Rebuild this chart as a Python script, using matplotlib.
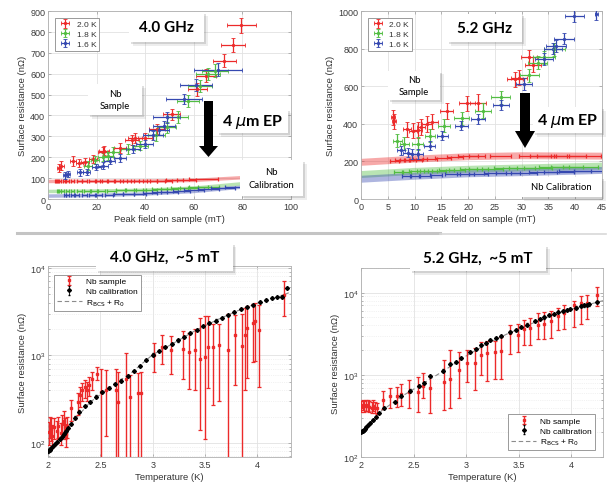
import matplotlib
matplotlib.use("Agg")
import matplotlib.pyplot as plt
from matplotlib.patches import Rectangle, Polygon
from matplotlib.lines import Line2D
from matplotlib.ticker import FuncFormatter, MultipleLocator

# ---------------- data: 4.0 GHz, Rs vs peak field ----------------
temps = ["2.0 K", "1.8 K", "1.6 K"]

a_red_x = [4.5, 5.5, 10.3, 12.8, 15.2, 18.5, 22.5, 23.0, 29.6, 34.5, 35.8, 40.0, 44.8, 51.0, 61.5, 65.0, 72.5, 76.0, 79.5]
a_red_y = [148, 160, 182, 172, 177, 191, 225, 232, 244, 283, 292, 290, 335, 405, 525, 590, 662, 738, 832]
a_red_xe = [1.0, 1.0, 1.2, 1.4, 1.5, 1.8, 2.0, 2.0, 2.5, 2.8, 2.8, 3.0, 3.2, 3.5, 4.0, 4.3, 4.8, 5.0, 6.0]
a_red_ye = [20, 20, 22, 20, 20, 20, 22, 22, 22, 25, 25, 25, 25, 28, 30, 30, 30, 32, 35]

a_grn_x = [16.5, 19.3, 22.7, 24.7, 26.7, 32.9, 37.8, 44.6, 48.8, 53.6, 57.7, 62.5, 65.9, 68.7]
a_grn_y = [160, 187, 200, 206, 225, 239, 256, 304, 343, 391, 470, 542, 598, 614]
a_grn_xe = [1.5, 1.8, 2.0, 2.2, 2.4, 2.8, 3.2, 3.6, 4.0, 4.2, 4.5, 4.8, 5.0, 5.2]
a_grn_ye = [20, 20, 20, 20, 22, 22, 22, 25, 25, 28, 28, 30, 30, 30]

a_blu_x = [6.9, 8.2, 13.0, 16.0, 19.9, 22.7, 25.4, 29.5, 35.0, 39.8, 43.3, 45.7, 47.7, 48.8, 56.0, 61.0, 70.0]
a_blu_y = [113, 121, 127, 129, 153, 160, 184, 196, 240, 264, 304, 328, 351, 391, 478, 545, 619]
a_blu_xe = [0.8, 0.9, 1.2, 1.4, 1.8, 2.0, 2.2, 2.5, 3.0, 3.5, 4.0, 4.2, 4.5, 5.5, 7.5, 6.5, 10.0]
a_blu_ye = [15, 15, 15, 15, 15, 18, 18, 18, 20, 20, 22, 22, 22, 25, 25, 28, 30]

# calibration cavity
a_cr_x = [3, 4, 5, 6.5, 8, 10, 13, 15, 18, 21, 23, 26, 29, 32, 35, 38, 42, 45, 48, 52, 57, 64]
a_cr_y = [85, 85, 85, 85, 85, 85, 85, 85, 85, 85, 85, 86, 86, 86, 86, 86, 87, 87, 88, 89, 91, 96]
a_cr_xe = [0.3, 0.3, 0.4, 0.5, 0.6, 0.7, 0.9, 1.0, 1.2, 1.4, 1.5, 1.7, 2.0, 2.2, 2.4, 2.6, 3.0, 3.0, 3.2, 3.5, 3.8, 6.0]
a_cg_x = [4, 5, 6, 8, 10, 13, 16, 19, 22, 26, 30, 34, 38, 42, 46, 50, 54, 58, 62, 66]
a_cg_y = [38, 38, 38, 38, 38, 39, 39, 39, 40, 40, 41, 42, 43, 45, 47, 50, 52, 54, 56, 58]
a_cg_xe = [0.3, 0.4, 0.5, 0.6, 0.7, 0.9, 1.1, 1.3, 1.5, 1.8, 2.0, 2.3, 2.5, 2.8, 3.0, 3.3, 3.5, 3.8, 4.0, 4.3]
a_cb_x = [7, 8, 10, 12, 15, 18, 21, 25, 29, 33, 38, 42, 46, 50, 55, 60, 66, 72, 78]
a_cb_y = [18, 18, 18, 18, 19, 19, 20, 21, 22, 24, 26, 29, 32, 35, 38, 42, 47, 52, 58]
a_cb_xe = [0.5, 0.6, 0.7, 0.8, 1.0, 1.2, 1.4, 1.7, 2.0, 2.2, 2.5, 2.8, 3.0, 3.3, 3.6, 4.0, 4.4, 4.8, 5.2]

a_fit_x = [0, 20, 40, 60, 80, 100]
a_fit_r = [84, 85, 86, 89, 102, 112]
a_fit_g = [36, 38, 42, 52, 73, 95]
a_fit_b = [14, 17, 24, 36, 57, 80]

# ---------------- data: 5.2 GHz, Rs vs peak field ----------------
b_red_x = [6.0, 6.2, 8.6, 9.7, 10.6, 11.2, 12.3, 13.3, 16.0, 19.8, 21.8, 28.8, 29.5, 31.4, 32.2]
b_red_y = [436, 414, 370, 362, 367, 383, 399, 410, 468, 508, 512, 638, 645, 753, 715]
b_red_xe = [0.4, 0.4, 0.8, 0.8, 0.8, 0.8, 1.0, 1.0, 1.2, 1.5, 1.5, 1.5, 1.5, 1.5, 1.5]
b_red_ye = [40, 40, 40, 40, 40, 40, 40, 40, 40, 40, 45, 40, 40, 40, 40]

b_grn_x = [6.8, 8.1, 10.6, 12.9, 15.5, 18.8, 22.7, 26.1, 31.4, 33.0, 34.2, 36.1]
b_grn_y = [311, 293, 293, 337, 390, 429, 470, 541, 658, 726, 753, 797]
b_grn_xe = [0.8, 0.9, 1.0, 1.0, 1.2, 1.4, 1.5, 1.8, 1.8, 1.8, 2.0, 2.0]
b_grn_ye = [35, 35, 35, 35, 35, 35, 40, 35, 35, 35, 35, 35]

b_blu_x = [7.5, 8.7, 9.6, 10.6, 12.8, 15.2, 18.7, 21.8, 26.1, 30.5, 34.2, 35.8, 36.4, 37.9, 39.8, 43.9]
b_blu_y = [258, 246, 240, 240, 284, 337, 390, 426, 500, 611, 744, 800, 814, 853, 973, 982]
b_blu_xe = [0.8, 0.8, 0.9, 1.0, 1.0, 1.0, 1.2, 1.3, 1.5, 1.5, 1.7, 1.7, 1.8, 1.9, 1.8, 0.3]
b_blu_ye = [25, 25, 25, 25, 25, 25, 25, 25, 25, 30, 30, 30, 30, 30, 30, 30]

b_cr_x = [6.3, 7.3, 8.2, 9.1, 10.1, 11.0, 12.9, 15.3, 17.6, 20.0, 21.7, 26.0, 32.5, 34.0, 35.6, 39.0, 41.8]
b_cr_y = [204, 205, 206, 208, 210, 212, 212, 216, 222, 228, 230, 229, 228, 228, 229, 229, 229]
b_cr_xe = [0.8, 0.9, 1.0, 1.1, 1.2, 1.3, 1.3, 1.5, 1.5, 1.8, 1.5, 2.0, 3.0, 2.5, 2.8, 3.0, 3.0]
b_cg_x = [7, 8.5, 10, 11.5, 13, 14.5, 16, 18, 20, 22, 24.5, 27, 30, 33, 36, 38.5, 41]
b_cg_y = [145, 146, 147, 148, 149, 150, 153, 156, 158, 160, 162, 164, 165, 166, 168, 170, 172]
b_cg_xe = [0.8, 0.9, 1.0, 1.1, 1.2, 1.3, 1.4, 1.5, 1.6, 1.8, 2.0, 2.2, 2.4, 2.6, 2.8, 3.0, 3.2]
b_cb_x = [8.5, 10, 12, 14, 17, 19.5, 22, 25, 27.5, 30.5, 34, 37, 40, 43]
b_cb_y = [120, 121, 124, 127, 131, 133, 135, 137, 138, 140, 142, 144, 147, 150]
b_cb_xe = [0.8, 0.9, 1.0, 1.2, 1.4, 1.6, 1.8, 2.0, 2.2, 2.4, 2.6, 2.8, 3.0, 3.2]

b_fit_x = [0, 10, 20, 30, 45]
b_fit_r = [195, 212, 225, 230, 228]
b_fit_g = [130, 147, 158, 165, 175]
b_fit_b = [105, 121, 134, 140, 152]

# ---------------- data: 4.0 GHz, Rs vs T ----------------
c_cal_T = [2.00, 2.01, 2.02, 2.03, 2.05, 2.07, 2.09, 2.11, 2.13, 2.15, 2.17, 2.19, 2.22, 2.26, 2.30, 2.35,
           2.40, 2.46, 2.52, 2.58, 2.64, 2.70, 2.76, 2.82, 2.88, 2.94, 3.00, 3.06, 3.12, 3.18, 3.24, 3.30,
           3.36, 3.42, 3.48, 3.54, 3.60, 3.66, 3.72, 3.78, 3.84, 3.90, 3.96, 4.02, 4.08, 4.14, 4.19, 4.23, 4.28]
c_cal_R = [80, 82, 84, 87, 92, 97, 103, 110, 118, 128, 138, 148, 165, 195, 228, 262,
           296, 338, 382, 425, 468, 515, 580, 660, 760, 880, 1020, 1130, 1240, 1350, 1480, 1630,
           1800, 1960, 2150, 2330, 2500, 2680, 2900, 3150, 3380, 3580, 3800, 4050, 4300, 4500, 4620, 4700, 5900]
c_smp_T = [2.01, 2.02, 2.03, 2.04, 2.06, 2.09, 2.10, 2.12, 2.13, 2.15, 2.16, 2.17, 2.18, 2.22, 2.29, 2.31,
           2.32, 2.35, 2.37, 2.39, 2.42, 2.47, 2.51, 2.55, 2.65, 2.67, 2.74, 2.78, 2.86, 2.89, 3.01, 3.09,
           3.17, 3.29, 3.35, 3.40, 3.45, 3.50, 3.53, 3.58, 3.63, 3.72, 3.79, 3.85, 3.88, 3.90, 3.96, 3.98, 4.01, 4.25]
c_smp_R = [132, 158, 145, 120, 150, 138, 158, 130, 165, 180, 151, 125, 158, 250, 292, 348,
           398, 433, 400, 454, 540, 617, 380, 398, 398, 290, 540, 335, 375, 375, 1000, 1250,
           1140, 1190, 1090, 1140, 920, 960, 1250, 1250, 1300, 1150, 1700, 1270, 1700, 2050, 2350, 2450, 1950, 4900]
c_smp_lo = [95, 115, 105, 90, 110, 100, 115, 95, 120, 130, 110, 90, 115, 180, 210, 260,
            300, 330, 300, 340, 400, 520, 10, 120, 10, 10, 10, 10, 10, 10, 640, 800,
            620, 540, 410, 400, 140, 110, 420, 270, 300, 10, 460, 10, 400, 550, 850, 870, 440, 2800]
c_smp_hi = [175, 200, 190, 160, 195, 180, 200, 170, 210, 230, 195, 165, 200, 310, 370, 430,
            480, 520, 490, 560, 650, 740, 690, 680, 700, 650, 1060, 600, 630, 640, 1400, 1700,
            1650, 1900, 1800, 2000, 2700, 2800, 2800, 2300, 2300, 3000, 2900, 3000, 3500, 3700, 3900, 4000, 3800, 7000]
c_fit_T = [2.0, 2.2, 2.4, 2.6, 2.8, 3.0, 3.2, 3.4, 3.6, 3.8, 4.0, 4.2, 4.3]
c_fit_R = [80, 155, 290, 440, 640, 1020, 1380, 1900, 2500, 3200, 3950, 4650, 5200]

# ---------------- data: 5.2 GHz, Rs vs T ----------------
d_cal_T = [2.00, 2.01, 2.02, 2.03, 2.04, 2.05, 2.07, 2.09, 2.11, 2.14, 2.17, 2.22, 2.32, 2.38, 2.47, 2.55,
           2.60, 2.66, 2.78, 2.85, 2.90, 2.95, 3.04, 3.09, 3.14, 3.19, 3.23, 3.28, 3.33, 3.42, 3.47, 3.52,
           3.58, 3.65, 3.70, 3.74, 3.79, 3.83, 3.87, 3.92, 3.96, 3.99, 4.04, 4.09, 4.12, 4.15, 4.17, 4.24]
d_cal_R = [200, 205, 210, 215, 222, 230, 245, 262, 280, 310, 340, 395, 470, 560, 645, 740,
           800, 980, 1130, 1360, 1450, 1620, 1900, 2050, 2300, 2450, 2630, 2800, 3000, 3300, 3550, 3800,
           4100, 4550, 4800, 5000, 5300, 5500, 5800, 6000, 6200, 6300, 6600, 6900, 7000, 7100, 7200, 7700]
d_smp_T = [2.00, 2.02, 2.03, 2.05, 2.07, 2.08, 2.10, 2.11, 2.13, 2.15, 2.21, 2.28, 2.34, 2.38, 2.46, 2.54,
           2.59, 2.66, 2.79, 2.85, 2.93, 3.01, 3.08, 3.14, 3.20, 3.27, 3.33, 3.42, 3.49, 3.55, 3.61, 3.68,
           3.74, 3.81, 3.87, 3.93, 4.02, 4.09, 4.15, 4.24]
d_smp_R = [410, 430, 415, 425, 420, 410, 400, 420, 400, 395, 490, 550, 560, 590, 620, 620,
           740, 690, 830, 890, 1150, 1400, 1400, 1750, 1850, 1900, 1950, 3200, 3100, 3600, 3700, 4100,
           4200, 4500, 5200, 5700, 7000, 7400, 7500, 9300]
d_smp_lo = [350, 370, 355, 365, 360, 350, 340, 360, 340, 330, 380, 400, 410, 420, 400, 350,
            520, 340, 370, 400, 520, 820, 650, 1000, 850, 900, 900, 1800, 1900, 2300, 2300, 2700,
            2700, 2800, 3500, 3600, 3800, 4200, 4800, 6900]
d_smp_hi = [480, 500, 485, 495, 490, 480, 470, 490, 470, 460, 630, 700, 720, 780, 870, 930,
            1050, 960, 1500, 2000, 1900, 2000, 2100, 2500, 2600, 2600, 2900, 4000, 4200, 4600, 4900, 5600,
            5800, 6000, 6500, 7000, 8000, 9000, 9500, 11800]
d_fit_T = [2.0, 2.2, 2.4, 2.6, 2.8, 3.0, 3.2, 3.4, 3.6, 3.8, 4.0, 4.2, 4.3]
d_fit_R = [200, 370, 560, 800, 1150, 1700, 2400, 3200, 4100, 5200, 6300, 7400, 8000]

RED, GREEN, BLUE = "#ec2a2a", "#52bd42", "#3548b0"

plt.rcParams["font.family"] = ["Liberation Sans", "DejaVu Sans"]
W, H = 608, 489
fig = plt.figure(figsize=(W / 100, H / 100), dpi=100)
fig.patch.set_facecolor("white")


def px_axes(l, t, r, b):
    return fig.add_axes([l / W, 1 - b / H, (r - l) / W, (b - t) / H])


def style(ax, log=False):
    ax.tick_params(which="both", direction="in", length=2.5, width=0.5, colors="#9a9a9a",
                   labelcolor="#3a3a3a", labelsize=6.5, pad=2, top=True, right=True)
    for s in ax.spines.values():
        s.set_color("#b0b0b0")
        s.set_linewidth(0.6)
    ax.grid(True, which="major", color="#e2e2e2", lw=0.6)
    if log:
        ax.grid(True, which="minor", color="#e6e6e6", lw=0.5, ls=":")
        ax.tick_params(which="minor", length=1.5)
    ax.set_axisbelow(True)


def shadow_box(l, t, r, b, text, size, bold=False):
    for off, a in ((3.5, 0.12), (2.0, 0.22)):
        fig.add_artist(Rectangle(((l + off) / W, 1 - (b + off) / H), (r - l) / W, (b - t) / H,
                                 transform=fig.transFigure, fc="#707070", ec="none", alpha=a, zorder=5))
    fig.add_artist(Rectangle((l / W, 1 - b / H), (r - l) / W, (b - t) / H,
                             transform=fig.transFigure, fc="white", ec="none", zorder=6))
    fig.text((l + r) / 2 / W, 1 - (t + b) / 2 / H, text, ha="center", va="center", fontsize=size,
             family="Lato", fontweight="bold" if bold else "normal", linespacing=1.5, zorder=7)


def down_arrow(xl, xr, hl, hr, top, neck, tip):
    pts = [(xl, top), (xr, top), (xr, neck), (hr, neck), ((hl + hr) / 2, tip), (hl, neck), (xl, neck)]
    fig.add_artist(Polygon([(x / W, 1 - y / H) for x, y in pts], closed=True,
                           transform=fig.transFigure, fc="black", ec="none", zorder=8))


def field_panel(ax, samples, cals, fit_x, fits, band_lw):
    for fy, c in zip(fits, (RED, GREEN, BLUE)):
        ax.plot(fit_x, fy, color=c, lw=band_lw, alpha=0.4, solid_capstyle="butt", zorder=1)
    for (x, y, xe), c in zip(cals, (RED, GREEN, BLUE)):
        ax.errorbar(x, y, xerr=xe, fmt="none", ecolor=c, elinewidth=0.9, capsize=1.5, capthick=0.9, zorder=2)
    handles = []
    for (x, y, xe, ye), c in zip(samples, (RED, GREEN, BLUE)):
        h = ax.errorbar(x, y, xerr=xe, yerr=ye, fmt="s", ms=2, mfc="none", mec=c, mew=0.6,
                        ecolor=c, elinewidth=0.9, capsize=1.5, capthick=0.9, zorder=3)
        handles.append(h)
    leg = ax.legend(handles, temps, loc="upper left", bbox_to_anchor=(0.03, 0.965), borderaxespad=0,
                    fontsize=6, fancybox=False, edgecolor="#8a8a8a", handlelength=1.6,
                    labelspacing=0.25, borderpad=0.35, handletextpad=0.6, framealpha=1)
    leg.get_frame().set_linewidth(0.6)
    for t in leg.get_texts():
        t.set_color("#333333")
    ax.set_ylabel("Surface resistance (n\u03a9)", fontsize=6.8, color="#333333", labelpad=2)


# ---- panel 1 ----
ax1 = px_axes(48, 12, 291, 200)
style(ax1)
field_panel(ax1,
            [(a_red_x, a_red_y, a_red_xe, a_red_ye), (a_grn_x, a_grn_y, a_grn_xe, a_grn_ye),
             (a_blu_x, a_blu_y, a_blu_xe, a_blu_ye)],
            [(a_cr_x, a_cr_y, a_cr_xe), (a_cg_x, a_cg_y, a_cg_xe), (a_cb_x, a_cb_y, a_cb_xe)],
            a_fit_x, [a_fit_r, a_fit_g, a_fit_b], 2.5)
ax1.set_xlim(0, 100)
ax1.set_ylim(0, 900)
ax1.xaxis.set_major_locator(MultipleLocator(20))
ax1.yaxis.set_major_locator(MultipleLocator(100))
ax1.set_xlabel("Peak field on sample (mT)", fontsize=6.8, color="#333333", labelpad=2)

# ---- panel 2 ----
ax2 = px_axes(361, 12, 602, 200)
style(ax2)
field_panel(ax2,
            [(b_red_x, b_red_y, b_red_xe, b_red_ye), (b_grn_x, b_grn_y, b_grn_xe, b_grn_ye),
             (b_blu_x, b_blu_y, b_blu_xe, b_blu_ye)],
            [(b_cr_x, b_cr_y, b_cr_xe), (b_cg_x, b_cg_y, b_cg_xe), (b_cb_x, b_cb_y, b_cb_xe)],
            b_fit_x, [b_fit_r, b_fit_g, b_fit_b], 5)
ax2.set_xlim(0, 45)
ax2.set_ylim(0, 1000)
ax2.xaxis.set_major_locator(MultipleLocator(5))
ax2.yaxis.set_major_locator(MultipleLocator(200))
ax2.set_xlabel("Peak feld on sample (mT)", fontsize=6.8, color="#333333", labelpad=2)


def temp_panel(ax, cal_T, cal_R, smp_T, smp_R, lo, hi, fit_T, fit_R):
    ax.set_yscale("log")
    style(ax, log=True)
    fl, = ax.plot(fit_T, fit_R, ls=(0, (4, 2.5)), color="#8c8c8c", lw=0.8, zorder=2)
    err = [[r - l for r, l in zip(smp_R, lo)], [h - r for r, h in zip(smp_R, hi)]]
    hs = ax.errorbar(smp_T, smp_R, yerr=err, fmt="s", ms=2, color=RED, ecolor=RED,
                     elinewidth=1.0, capsize=1.6, capthick=0.9, zorder=3)
    hc = ax.errorbar(cal_T, cal_R, yerr=[[0.03 * r for r in cal_R], [0.03 * r for r in cal_R]], fmt="D",
                     ms=2.0, color="black", ecolor="black", elinewidth=0.6, capsize=1, zorder=4)
    ax.xaxis.set_major_locator(MultipleLocator(0.5))
    ax.xaxis.set_major_formatter(FuncFormatter(lambda v, p: "%g" % v))
    ax.set_xlabel("Temperature (K)", fontsize=6.8, color="#333333", labelpad=2)
    ax.set_ylabel("Surface resistance (n\u03a9)", fontsize=6.8, color="#333333", labelpad=2)
    return [hs, hc, fl]


labels3 = ["Nb sample", "Nb calibration", r"R$_{\rm BCS}$ + R$_0$"]

ax3 = px_axes(48, 267, 291, 458)
h3 = temp_panel(ax3, c_cal_T, c_cal_R, c_smp_T, c_smp_R, c_smp_lo, c_smp_hi, c_fit_T, c_fit_R)
ax3.set_xlim(2, 4.32)
ax3.set_ylim(69, 10500)
leg3 = ax3.legend(h3, labels3, loc="upper left", bbox_to_anchor=(0.025, 0.955), borderaxespad=0,
                  fontsize=6, fancybox=False, edgecolor="#8a8a8a", handlelength=3,
                  labelspacing=0.25, borderpad=0.35, handletextpad=0.5, framealpha=1)
leg3.get_frame().set_linewidth(0.6)

ax4 = px_axes(361, 269, 603, 458)
h4 = temp_panel(ax4, d_cal_T, d_cal_R, d_smp_T, d_smp_R, d_smp_lo, d_smp_hi, d_fit_T, d_fit_R)
ax4.set_xlim(2, 4.3)
ax4.set_ylim(100, 20000)
leg4 = ax4.legend(h4, labels3, loc="lower right", bbox_to_anchor=(0.967, 0.037), borderaxespad=0,
                  fontsize=6, fancybox=False, edgecolor="#8a8a8a", handlelength=3,
                  labelspacing=0.25, borderpad=0.35, handletextpad=0.5, framealpha=1)
leg4.get_frame().set_linewidth(0.6)

# ---- annotation boxes and arrows ----
shadow_box(129, 13, 204, 43, "4.0 GHz", 11, bold=True)
shadow_box(217, 110, 288, 134, "4 $\\mu$m EP", 11.5, bold=True)
shadow_box(88, 85, 142, 116, "Nb\nSample", 6.8)
shadow_box(240, 161, 303, 197, "Nb\nCalibration", 6.8)
down_arrow(204, 213, 199, 218, 102, 147, 158)

shadow_box(447, 15, 522, 43, "5.2 GHz", 11, bold=True)
shadow_box(533, 108, 602, 134, "4 $\\mu$m EP", 11.5, bold=True)
shadow_box(388, 72, 440, 101, "Nb\nSample", 6.8)
shadow_box(520, 178, 602, 198, "Nb Calibration", 6.8)
down_arrow(520, 530, 515, 535, 94, 132, 149)

shadow_box(96, 244, 233, 272, "4.0 GHz,  ~5 mT", 11, bold=True)
shadow_box(410, 246, 546, 272, "5.2 GHz,  ~5 mT", 11, bold=True)

fig.add_artist(Line2D([17 / W, 440 / W], [1 - 234 / H] * 2, transform=fig.transFigure,
                      color="#c4c4c4", lw=2.2, zorder=4))
fig.add_artist(Line2D([440 / W, 606 / W], [1 - 235 / H] * 2, transform=fig.transFigure,
                      color="#d8d8d8", lw=1.2, zorder=4))

fig.savefig("out.png", dpi=100, facecolor="white")
